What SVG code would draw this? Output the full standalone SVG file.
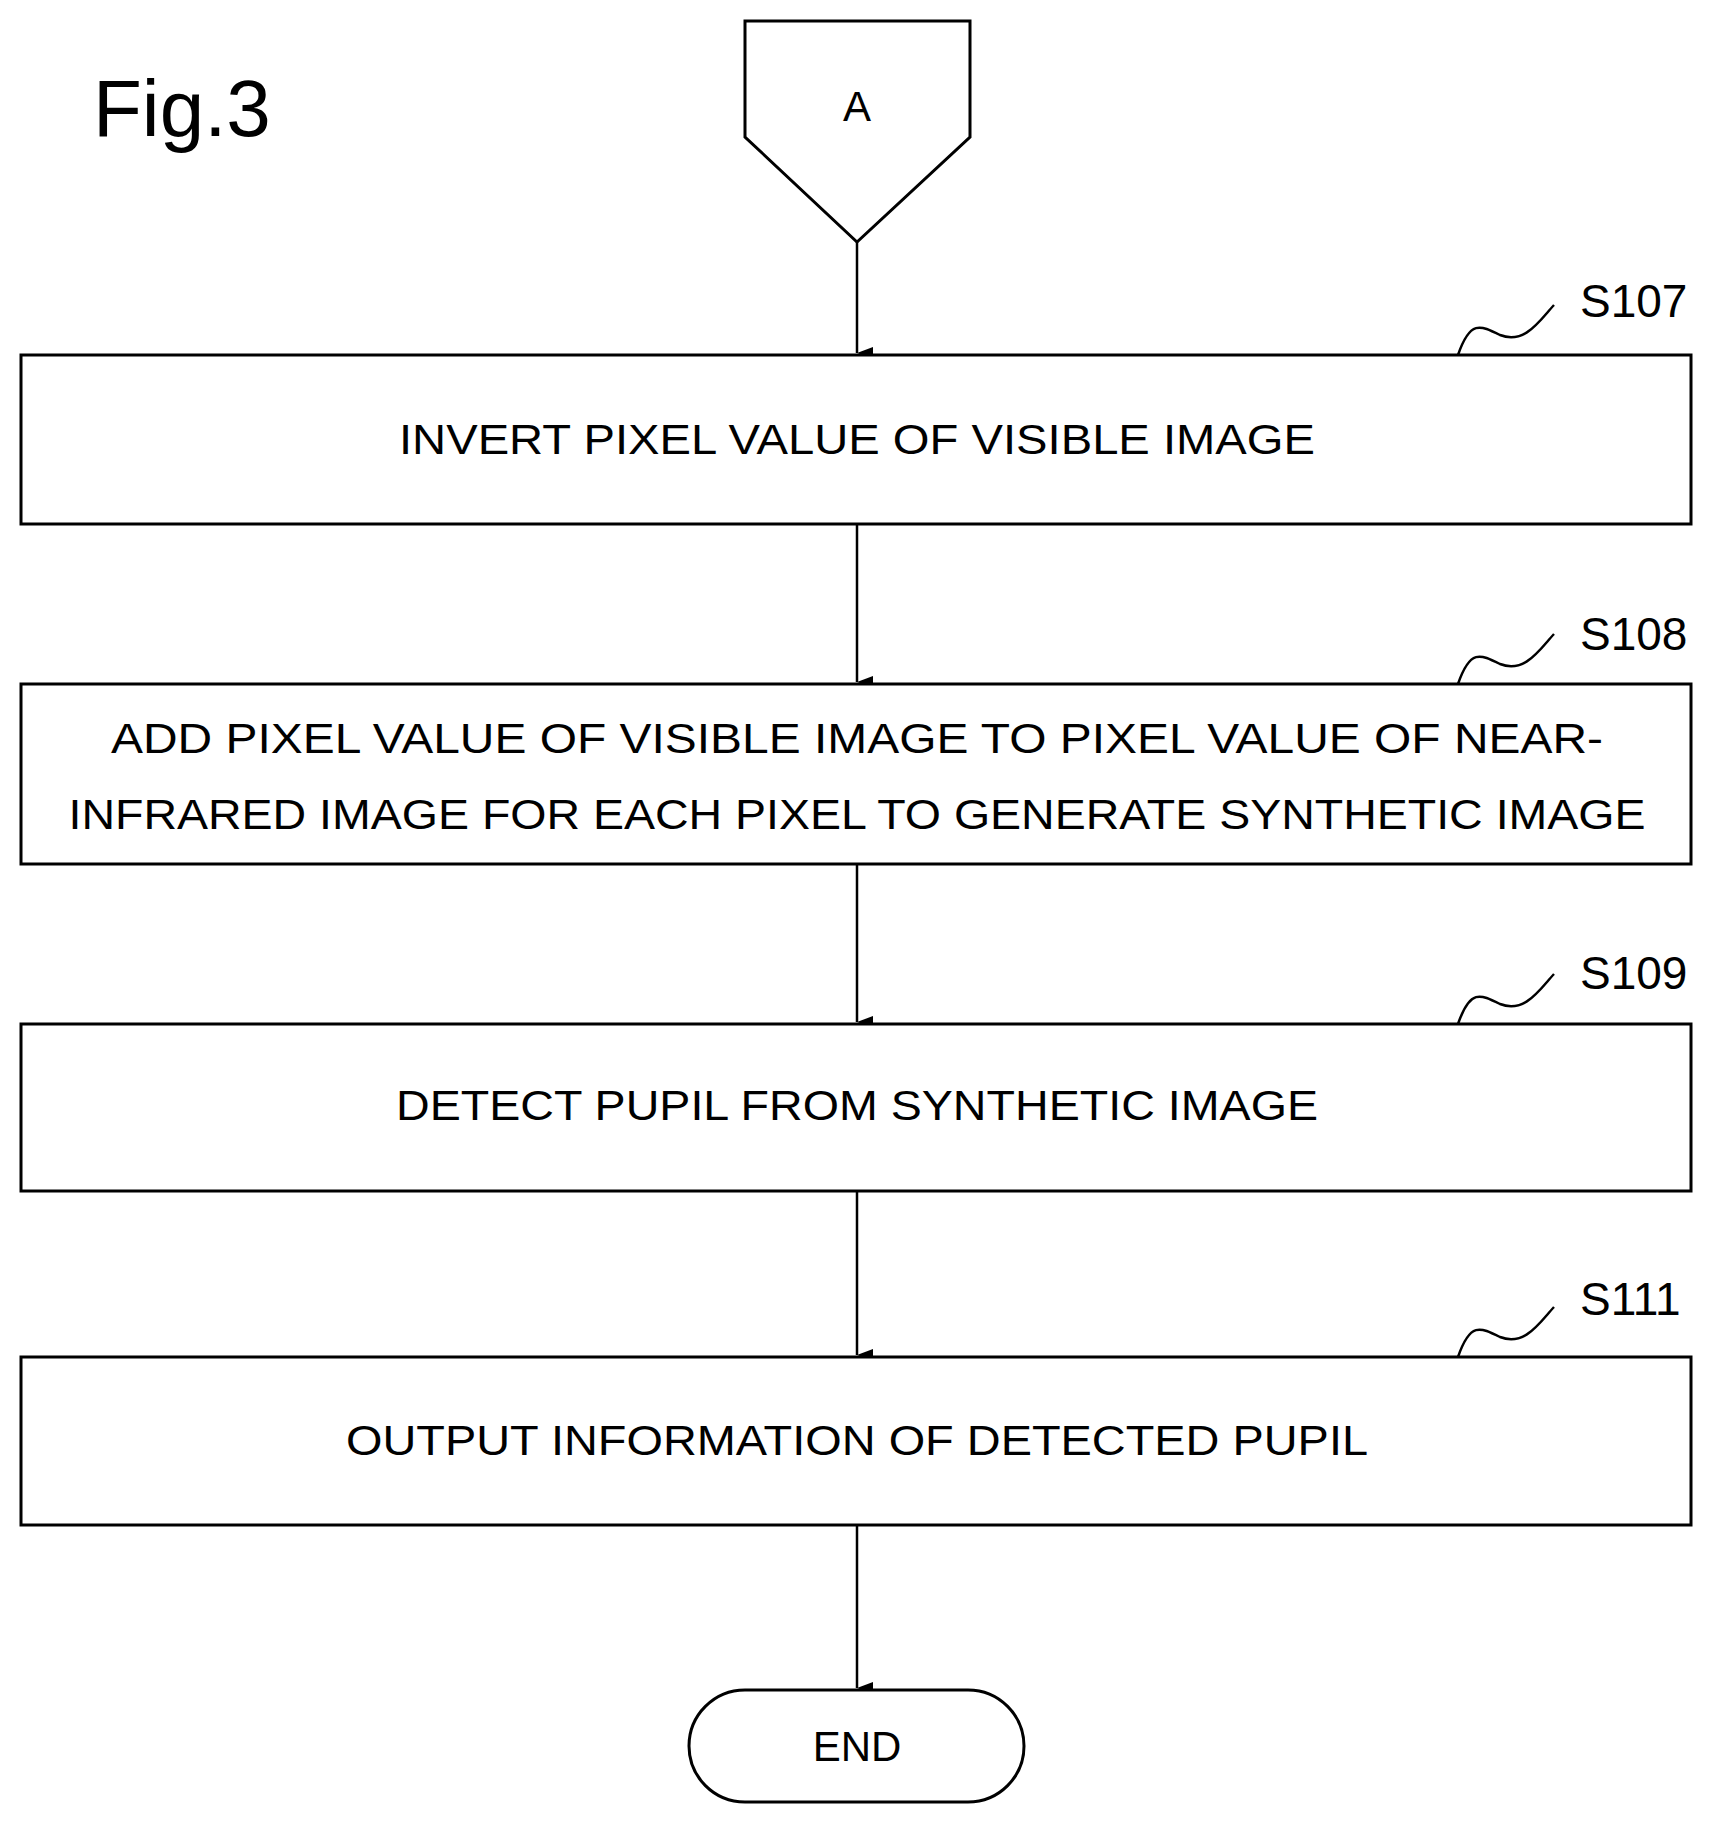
<svg xmlns="http://www.w3.org/2000/svg" width="1711" height="1822" viewBox="0 0 1711 1822">
<style>
.s{fill:#fff;stroke:#000;stroke-width:3}
.t{font-family:"Liberation Sans",Arial,sans-serif;font-size:42px;fill:#000;text-anchor:middle}
.l{font-family:"Liberation Sans",Arial,sans-serif;font-size:46px;fill:#000}
.c{fill:none;stroke:#000;stroke-width:2.5}
</style>
<defs><marker id="a" markerWidth="12" markerHeight="16" refX="6" refY="16" orient="auto" markerUnits="userSpaceOnUse" viewBox="0 0 12 16"><path d="M0,0L12,0L6,16Z" fill="#000"/></marker></defs>
<rect width="1711" height="1822" fill="#fff"/>
<text x="93" y="136" font-family="Liberation Sans,Arial,sans-serif" font-size="80">Fig.3</text>
<g id="connectors">
<path class="c" d="M857,242V353" marker-end="url(#a)"/>
<path class="c" d="M857,524V682" marker-end="url(#a)"/>
<path class="c" d="M857,864V1022" marker-end="url(#a)"/>
<path class="c" d="M857,1191V1355" marker-end="url(#a)"/>
<path class="c" d="M857,1525V1688" marker-end="url(#a)"/>
</g>
<g id="A"><path class="s" d="M745,21H970V137L857,242L745,137Z"/><text class="t" x="857" y="121">A</text></g>
<g id="S107"><rect class="s" x="21" y="355" width="1670" height="169"/><text class="t" x="857" y="454" textLength="916" lengthAdjust="spacingAndGlyphs">INVERT PIXEL VALUE OF VISIBLE IMAGE</text>
<path class="c" d="M1458,355C1470,320 1480,325 1500,335C1525,345 1540,320 1554,305"/><text class="l" x="1580" y="317">S107</text></g>
<g id="S108"><rect class="s" x="21" y="684" width="1670" height="180"/><text class="t" x="857" y="753" textLength="1492" lengthAdjust="spacingAndGlyphs">ADD PIXEL VALUE OF VISIBLE IMAGE TO PIXEL VALUE OF NEAR-</text><text class="t" x="857" y="829" textLength="1577" lengthAdjust="spacingAndGlyphs">INFRARED IMAGE FOR EACH PIXEL TO GENERATE SYNTHETIC IMAGE</text>
<path class="c" d="M1458,684C1470,649 1480,654 1500,664C1525,674 1540,649 1554,634"/><text class="l" x="1580" y="650">S108</text></g>
<g id="S109"><rect class="s" x="21" y="1024" width="1670" height="167"/><text class="t" x="857" y="1120" textLength="922" lengthAdjust="spacingAndGlyphs">DETECT PUPIL FROM SYNTHETIC IMAGE</text>
<path class="c" d="M1458,1024C1470,989 1480,994 1500,1004C1525,1014 1540,989 1554,974"/><text class="l" x="1580" y="989">S109</text></g>
<g id="S111"><rect class="s" x="21" y="1357" width="1670" height="168"/><text class="t" x="857" y="1455" textLength="1022" lengthAdjust="spacingAndGlyphs">OUTPUT INFORMATION OF DETECTED PUPIL</text>
<path class="c" d="M1458,1357C1470,1322 1480,1327 1500,1337C1525,1347 1540,1322 1554,1307"/><text class="l" x="1580" y="1315">S111</text></g>
<g id="END"><rect class="s" x="689" y="1690" width="335" height="112" rx="56"/><text class="t" x="857" y="1761">END</text></g>
</svg>
